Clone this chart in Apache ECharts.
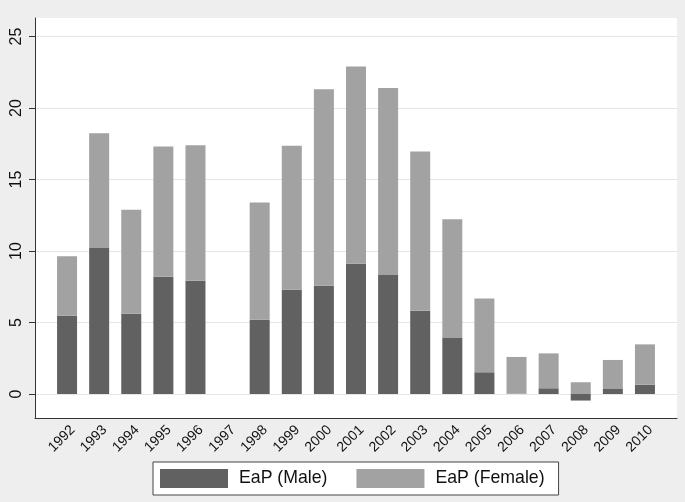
<!DOCTYPE html>
<html>
<head>
<meta charset="utf-8">
<script src="https://cdn.jsdelivr.net/npm/echarts@6/dist/echarts.min.js"></script>
<style>
html,body{margin:0;padding:0;background:#eeeeee;}
#chart{width:685px;height:502px;}
</style>
</head>
<body>
<div id="chart"></div>
<script>
var years = ['1992','1993','1994','1995','1996','1997','1998','1999','2000','2001','2002','2003','2004','2005','2006','2007','2008','2009','2010'];
var male = [5.47,10.22,5.61,8.20,7.92,null,5.19,7.29,7.57,9.11,8.32,5.82,3.91,1.52,0.02,0.40,-0.46,0.35,0.65];
var female = [4.17,8.02,7.27,9.11,9.48,null,8.20,10.07,13.75,13.79,13.09,11.14,8.32,5.16,2.57,2.44,0.82,2.03,2.82];
var yTicks = [0,5,10,15,20,25];
var seriesNames = ['EaP (Male)','EaP (Female)'];

var font = '"Liberation Sans", Arial, Helvetica, sans-serif';
var yMin = -1.68, yMax = 26.3;

var chart = echarts.init(document.getElementById('chart'), null, {renderer:'canvas'});
chart.setOption({
  animation:false,
  backgroundColor:'#eeeeee',
  textStyle:{fontFamily:font},
  grid:[
    {left:35,right:8,top:18,bottom:84,show:true,backgroundColor:'#ffffff',borderWidth:0},
    {left:51,right:24,top:18,bottom:84,show:false}
  ],
  xAxis:[
    {gridIndex:0, type:'value', min:0, max:1,
     axisLine:{show:true,onZero:false,lineStyle:{color:'#333333',width:1}},
     axisTick:{show:false}, axisLabel:{show:false}, splitLine:{show:false}},
    {gridIndex:1, type:'category', data:years,
     axisLine:{show:false}, axisTick:{show:false}, splitLine:{show:false},
     axisLabel:{interval:0, rotate:45, fontSize:14, color:'#111111', margin:4,
       verticalAlign:'top', align:'right', padding:[1,0,0,0], fontFamily:font}}
  ],
  yAxis:[
    {gridIndex:0, type:'value', min:yMin, max:yMax,
     axisLine:{show:true,onZero:false,lineStyle:{color:'#333333',width:1}},
     axisTick:{show:true,customValues:yTicks,length:6,lineStyle:{color:'#333333'}},
     axisLabel:{customValues:yTicks, rotate:90, fontSize:16, color:'#111111', margin:10, fontFamily:font},
     splitLine:{show:true,lineStyle:{color:'#e6e6e6',width:1}}},
    {gridIndex:1, type:'value', min:yMin, max:yMax, show:false,
     splitLine:{show:false}}
  ],
  legend:{
    left:153, top:462,
    orient:'horizontal',
    data:seriesNames,
    itemWidth:68, itemHeight:19, itemGap:29,
    padding:[7,14,7,7],
    backgroundColor:'#ffffff',
    borderColor:'#444444', borderWidth:1, borderRadius:0,
    icon:'rect',
    textStyle:{fontSize:17.7,color:'#111111',fontFamily:font,padding:[0,0,0,6]}
  },
  series:[
    {name:seriesNames[0], type:'bar', xAxisIndex:1, yAxisIndex:1, stack:'eap', barWidth:20, data:male,
     itemStyle:{color:'#616161'}, z:3},
    {name:seriesNames[1], type:'bar', xAxisIndex:1, yAxisIndex:1, stack:'eap', barWidth:20, data:female,
     itemStyle:{color:'#a2a2a2'}, z:3}
  ]
});
</script>
</body>
</html>
